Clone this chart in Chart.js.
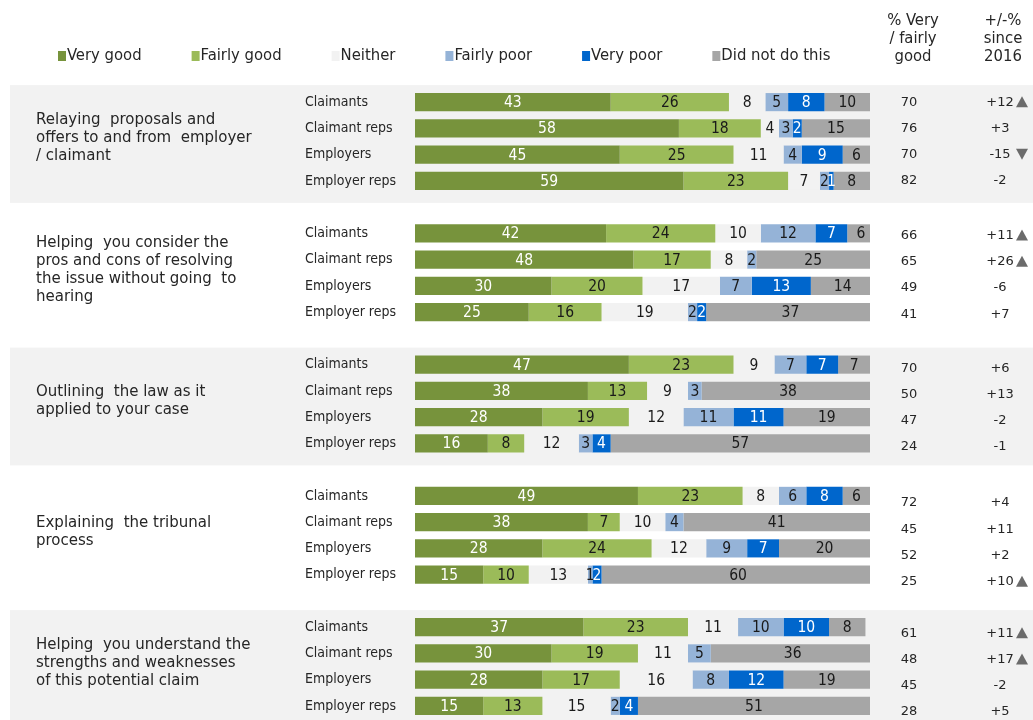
<!DOCTYPE html>
<html>
<head>
<meta charset="utf-8">
<script src="https://cdn.jsdelivr.net/npm/chart.js@4"></script>
<style>
  html, body { margin: 0; padding: 0; background: #fff; }
  #wrap { width: 1033px; height: 720px; position: relative; }
</style>
</head>
<body>
<div id="wrap"><canvas id="ratingChart" width="1033" height="720"></canvas></div>
<script>
const groupTitles = [
    ['Relaying  proposals and', 'offers to and from  employer', '/ claimant'],
    ['Helping  you consider the', 'pros and cons of resolving', 'the issue without going  to', 'hearing'],
    ['Outlining  the law as it', 'applied to your case'],
    ['Explaining  the tribunal', 'process'],
    ['Helping  you understand the', 'strengths and weaknesses', 'of this potential claim']
];
const respondents = ['Claimants', 'Claimant reps', 'Employers', 'Employer reps'];

const seriesNames = ['Very good', 'Fairly good', 'Neither', 'Fairly poor', 'Very poor', 'Did not do this'];
const veryGood   = [43, 58, 45, 59, 42, 48, 30, 25, 47, 38, 28, 16, 49, 38, 28, 15, 37, 30, 28, 15];
const fairlyGood = [26, 18, 25, 23, 24, 17, 20, 16, 23, 13, 19, 8, 23, 7, 24, 10, 23, 19, 17, 13];
const neither    = [8, 4, 11, 7, 10, 8, 17, 19, 9, 9, 12, 12, 8, 10, 12, 13, 11, 11, 16, 15];
const fairlyPoor = [5, 3, 4, 2, 12, 2, 7, 2, 7, 3, 11, 3, 6, 4, 9, 1, 10, 5, 8, 2];
const veryPoor   = [8, 2, 9, 1, 7, 0, 13, 2, 7, 0, 11, 4, 8, 0, 7, 2, 10, 0, 12, 4];
const didNotDo   = [10, 15, 6, 8, 6, 25, 14, 37, 7, 38, 19, 57, 6, 41, 20, 60, 8, 36, 19, 51];

const veryFairlyGood = [70, 76, 70, 82, 66, 65, 49, 41, 70, 50, 47, 24, 72, 45, 52, 25, 61, 48, 45, 28];
const changeSince2016 = ['+12', '+3', '-15', '-2', '+11', '+26', '-6', '+7', '+6', '+13', '-2', '-1',
    '+4', '+11', '+2', '+10', '+11', '+17', '-2', '+5'];
const significance = ['up', '', 'down', '', 'up', 'up', '', '', '', '', '', '',
    '', '', '', 'up', 'up', 'up', '', ''];

const colors = ['#77933c', '#9bbb59', '#f2f2f2', '#95b3d7', '#0066cc', '#a6a6a6'];
const labelColors = ['#ffffff', '#1a1a1a', '#1a1a1a', '#1a1a1a', '#ffffff', '#1a1a1a'];

// 5 slots per group: 4 rows + one empty spacer (none after the last group)
const slotLabels = [];
const slotRow = [];
groupTitles.forEach((t, g) => {
    respondents.forEach((r, i) => { slotLabels.push(r); slotRow.push(g * 4 + i); });
    if (g < groupTitles.length - 1) { slotLabels.push(''); slotRow.push(-1); }
});
const toSlots = arr => slotRow.map(i => i < 0 ? null : arr[i]);

const allSeries = [veryGood, fairlyGood, neither, fairlyPoor, veryPoor, didNotDo];

const textDark = '#262626';
const sans = '"DejaVu Sans", Verdana, sans-serif';
const cond = '"DejaVu Sans Condensed", "DejaVu Sans", sans-serif';

const decorPlugin = {
    id: 'decor',
    beforeDraw(chart) {
        const { ctx } = chart;
        const y = chart.scales.y;
        ctx.save();
        ctx.fillStyle = '#fff';
        ctx.fillRect(0, 0, chart.width, chart.height);
        groupTitles.forEach((t, g) => {
            if (g % 2 !== 0) return;
            const top = y.getPixelForValue(g * 5) - 17;
            const bottom = y.getPixelForValue(g * 5 + 3) + 22;
            ctx.fillStyle = '#f2f2f2';
            ctx.fillRect(10, top, chart.width - 10, bottom - top);
        });
        ctx.restore();
    },
    afterDraw(chart) {
        const { ctx } = chart;
        const y = chart.scales.y;
        ctx.save();
        ctx.fillStyle = textDark;
        ctx.textBaseline = 'middle';

        // group titles
        ctx.font = '15px ' + sans;
        ctx.textAlign = 'left';
        groupTitles.forEach((lines, g) => {
            const mid = (y.getPixelForValue(g * 5) + y.getPixelForValue(g * 5 + 3)) / 2 - 3;
            lines.forEach((line, k) => {
                ctx.fillText(line, 36, mid + (k - (lines.length - 1) / 2) * 18);
            });
        });

        // legend
        ctx.font = '16.5px ' + cond;
        let lx = 58;
        seriesNames.forEach((name, i) => {
            ctx.fillStyle = colors[i];
            ctx.fillRect(lx, 51, 8, 10);
            ctx.fillStyle = textDark;
            ctx.fillText(name, lx + 9, 56);
            lx += 9 + ctx.measureText(name).width + 50;
        });

        // right-hand columns
        ctx.textAlign = 'center';
        ['% Very', '/ fairly', 'good'].forEach((s, k) => ctx.fillText(s, 913, 21 + k * 18));
        ['+/-%', 'since', '2016'].forEach((s, k) => ctx.fillText(s, 1003, 21 + k * 18));

        const groupShift = [0, 2, 3.5, 7, 6];
        ctx.font = '13px ' + sans;
        slotRow.forEach((r, s) => {
            if (r < 0) return;
            const g = Math.floor(r / 4);
            const py = y.getPixelForValue(s) + groupShift[g];
            ctx.fillStyle = textDark;
            ctx.textAlign = 'center';
            ctx.fillText(String(veryFairlyGood[r]), 909, py);
            ctx.fillText(changeSince2016[r], 1000, py);
            if (significance[r]) {
                ctx.fillStyle = '#6b6b6b';
                ctx.beginPath();
                if (significance[r] === 'up') {
                    ctx.moveTo(1016, py + 5); ctx.lineTo(1028, py + 5); ctx.lineTo(1022, py - 6);
                } else {
                    ctx.moveTo(1016, py - 6); ctx.lineTo(1028, py - 6); ctx.lineTo(1022, py + 5);
                }
                ctx.closePath();
                ctx.fill();
            }
        });
        ctx.restore();
    },
    afterDatasetsDraw(chart) {
        const { ctx } = chart;
        ctx.save();
        ctx.font = '15.5px ' + cond;
        ctx.textAlign = 'center';
        ctx.textBaseline = 'middle';
        chart.data.datasets.forEach((ds, di) => {
            const meta = chart.getDatasetMeta(di);
            meta.data.forEach((el, i) => {
                const v = ds.data[i];
                if (!v) return;
                const { x, base, y } = el.getProps(['x', 'base', 'y'], true);
                ctx.fillStyle = labelColors[di];
                ctx.fillText(String(v), (x + base) / 2, y + 1);
            });
        });
        ctx.restore();
    }
};

new Chart(document.getElementById('ratingChart').getContext('2d'), {
    type: 'bar',
    data: {
        labels: slotLabels,
        datasets: allSeries.map((arr, i) => ({
            label: seriesNames[i],
            data: toSlots(arr),
            backgroundColor: colors[i],
            borderWidth: 0,
            barPercentage: 0.69,
            categoryPercentage: 1
        }))
    },
    options: {
        indexAxis: 'y',
        responsive: false,
        animation: false,
        devicePixelRatio: 1,
        layout: { padding: { left: 305, right: 163, top: 89, bottom: 1 } },
        plugins: {
            legend: { display: false },
            tooltip: { enabled: false }
        },
        scales: {
            x: { stacked: true, min: 0, max: 100, display: false },
            y: {
                stacked: true,
                grid: { display: false },
                border: { display: false },
                ticks: {
                    autoSkip: false,
                    crossAlign: 'far',
                    padding: 0,
                    color: textDark,
                    font: { family: cond, size: 14 }
                },
                afterFit(scale) {
                    scale.width = 110;
                    scale.paddingTop = 0;
                    scale.paddingBottom = 0;
                }
            }
        }
    },
    plugins: [decorPlugin]
});
</script>
</body>
</html>
